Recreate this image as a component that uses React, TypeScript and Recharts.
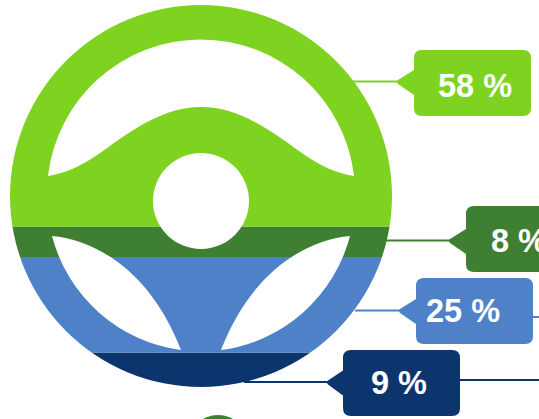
import { BarChart, Bar, XAxis, YAxis, Rectangle } from 'recharts';

// top to bottom on the wheel
const seriesNames = ['hands', 'knee', 'one', 'none'];
const seriesValues = [58, 8, 25, 9];
const seriesColors = ['#7ed321', '#3f7f32', '#4f81c8', '#0c346d'];

const chartRow: Record<string, string | number> = { name: 'wheel' };
seriesNames.forEach((n, i) => {
  chartRow[n] = seriesValues[i];
});

// callout boxes, same order as the series
const callouts = [
  { x: 414, y: 50, tipX: 396, tipY: 82, lineFrom: 353, textX: 438, textY: 97 },
  { x: 466, y: 206, tipX: 448, tipY: 241, lineFrom: 386, textX: 491, textY: 252 },
  { x: 416, y: 278, tipX: 398, tipY: 311, lineFrom: 355, tailY: 317, textX: 426, textY: 322 },
  { x: 343, y: 350, tipX: 326, tipY: 382.5, lineFrom: 244, tailY: 380, textX: 371, textY: 394 },
];
const BOX_W = 117;
const BOX_H = 66;

const wheelPath = [
  // rim
  'M10,196 A191,191 0 1 1 392,196 A191,191 0 1 1 10,196 Z',
  // top opening
  'M48,176 A154,154 0 0 1 354,176 C317,170 297,147 267,129 C244,115 224,107 201,107 C178,107 158,115 135,129 C105,147 85,170 48,176 Z',
  // hub
  'M153,201 A48,48 0 1 1 249,201 A48,48 0 1 1 153,201 Z',
  // lower openings
  'M52,236 A154,154 0 0 0 181,350 C150,270 95,240 52,236 Z',
  'M350,236 A154,154 0 0 1 221,350 C252,270 307,240 350,236 Z',
].join(' ');

function calloutPath(c: (typeof callouts)[number]) {
  const r = 8;
  const { x, y, tipX, tipY } = c;
  const right = x + BOX_W;
  const bottom = y + BOX_H;
  return [
    `M${x + r},${y} H${right - r} Q${right},${y} ${right},${y + r}`,
    `V${bottom - r} Q${right},${bottom} ${right - r},${bottom}`,
    `H${x + r} Q${x},${bottom} ${x},${bottom - r}`,
    `V${tipY + 13} L${tipX + 2},${tipY + 2} Q${tipX},${tipY} ${tipX + 2},${tipY - 2} L${x},${tipY - 12}`,
    `V${y + r} Q${x},${y} ${x + r},${y} Z`,
  ].join(' ');
}

function Callout({ index }: { index: number }) {
  const c = callouts[index];
  const color = seriesColors[index];
  return (
    <g>
      <line x1={c.lineFrom} x2={c.tipX + 2} y1={c.tipY - 0.5} y2={c.tipY - 0.5} stroke={color} strokeWidth={2} />
      {c.tailY !== undefined && (
        <line x1={c.x + BOX_W} x2={539} y1={c.tailY} y2={c.tailY} stroke={color} strokeWidth={2} />
      )}
      <path d={calloutPath(c)} fill={color} />
      <text
        x={c.textX}
        y={c.textY}
        fill="#ffffff"
        fontFamily="Liberation Sans"
        fontWeight="bold"
        fontSize={32.5}
      >
        {seriesValues[index]} %
      </text>
    </g>
  );
}

export default function App() {
  return (
    <div style={{ position: 'absolute', left: 0, top: 0 }}>
      <BarChart
        width={539}
        height={419}
        data={[chartRow]}
        margin={{ top: 5, right: 147, bottom: 32, left: 10 }}
        barCategoryGap={0}
      >
        <defs>
          <clipPath id="wheel">
            <path d={wheelPath} clipRule="evenodd" />
          </clipPath>
        </defs>
        <XAxis dataKey="name" hide />
        <YAxis type="number" domain={[0, 100]} hide />
        <circle cx={218} cy={445} r={30} fill="#3f7f32" />
        {seriesNames
          .map((n, i) => (
            <Bar
              key={n}
              dataKey={n}
              stackId="wheel"
              fill={seriesColors[i]}
              isAnimationActive={false}
              shape={(props: any) => <Rectangle {...props} clipPath="url(#wheel)" />}
              label={() => <Callout index={i} />}
            />
          ))
          .reverse()}
      </BarChart>
    </div>
  );
}
